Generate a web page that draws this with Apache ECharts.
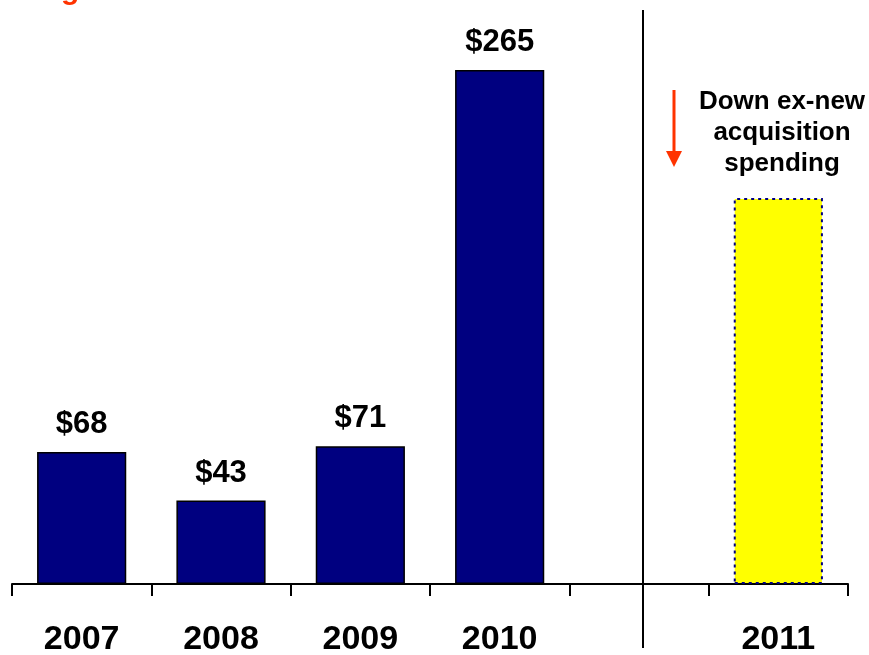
<!DOCTYPE html>
<html>
<head>
<meta charset="utf-8">
<script src="https://cdn.jsdelivr.net/npm/echarts@6/dist/echarts.min.js"></script>
<style>html,body{margin:0;padding:0;background:#fff;}#c{width:869px;height:655px;}</style>
</head>
<body>
<div id="c"></div>
<script>
var categories = ['2007', '2008', '2009', '2010', '', '2011'];
var values = [68, 43, 71, 265, null, 199];
var labelText = ['$68', '$43', '$71', '$265', '', ''];
var annotation = ['Down ex-new', 'acquisition', 'spending'];

var FONT = '"Liberation Sans", Arial, sans-serif';
var chart = echarts.init(document.getElementById('c'));

var items = values.map(function (v, i) {
  if (categories[i] === '2011') {
    return {
      value: v,
      itemStyle: { color: '#FFFF00', borderColor: '#000080', borderWidth: 2, borderType: [3, 4] },
      label: { show: false }
    };
  }
  return { value: v };
});

chart.setOption({
  animation: false,
  backgroundColor: '#fff',
  grid: { left: 12, right: 21, top: 2, bottom: 71, containLabel: false, outerBoundsMode: 'none' },
  xAxis: {
    type: 'category',
    data: categories,
    axisLine: { lineStyle: { color: '#000', width: 2 } },
    axisTick: { show: true, length: 12, lineStyle: { color: '#000', width: 2 } },
    axisLabel: { color: '#000', fontFamily: FONT, fontWeight: 'bold', fontSize: 34, margin: 39 }
  },
  yAxis: { type: 'value', min: 0, max: 300, show: false, splitLine: { show: false } },
  series: [{
    type: 'bar',
    data: items,
    barWidth: '64%',
    itemStyle: { color: '#000080', borderColor: '#000', borderWidth: 1.5 },
    label: {
      show: true,
      position: 'top',
      distance: 12,
      color: '#000',
      fontFamily: FONT,
      fontWeight: 'bold',
      fontSize: 31,
      formatter: function (p) { return labelText[p.dataIndex]; }
    }
  }],
  graphic: [
    { type: 'line', shape: { x1: 643, y1: 10, x2: 643, y2: 648 }, style: { stroke: '#000', lineWidth: 2 } },
    { type: 'line', shape: { x1: 674, y1: 90, x2: 674, y2: 152 }, style: { stroke: '#FF3300', lineWidth: 3 } },
    { type: 'polygon', shape: { points: [[666, 151], [682, 151], [674, 167]] }, style: { fill: '#FF3300' } },
    {
      type: 'text', x: 782, y: 86,
      style: {
        text: annotation.join('\n'), fill: '#000', font: 'bold 26px ' + FONT,
        textAlign: 'center', textVerticalAlign: 'top', lineHeight: 31
      }
    },
    {
      type: 'text', x: 61, y: -24,
      style: { text: 'g', fill: '#FF3300', font: 'bold 30px ' + FONT, textAlign: 'left', textVerticalAlign: 'top' }
    }
  ]
});
</script>
</body>
</html>
